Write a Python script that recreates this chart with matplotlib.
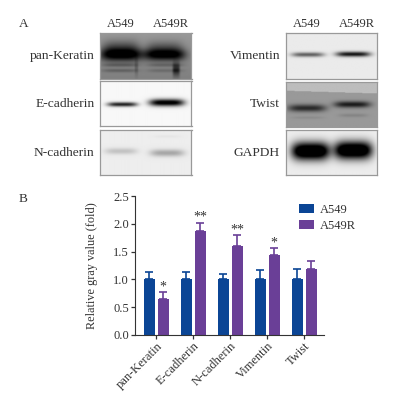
import numpy as np
import matplotlib
matplotlib.use('Agg')
import matplotlib.pyplot as plt

plt.rcParams['font.family'] = ['Liberation Serif', 'DejaVu Serif']

W, H = 402, 400
TXT = '#333333'

# bar chart values
genes = ['pan-Keratin', 'E-cadherin', 'N-cadherin', 'Vimentin', 'Twist']
a549 = [1.0, 1.0, 1.0, 1.0, 1.0]
a549_err = [0.14, 0.14, 0.10, 0.17, 0.19]
a549r = [0.65, 1.87, 1.61, 1.44, 1.18]
a549r_err = [0.12, 0.15, 0.19, 0.12, 0.15]
stars = ['*', '**', '**', '*', '']
yticks = [0.0, 0.5, 1.0, 1.5, 2.0, 2.5]

# blot panels: label, box (px), background grey, bands (x, y, half width, half height, darkness)
# x and y are fractions of the panel
left_blots = [
    ('pan-Keratin', (100.5, 33, 191.5, 79), 0.60, [
        (0.23, 0.47, 0.23, 0.14, 0.62), (0.71, 0.47, 0.23, 0.13, 0.62),
        (0.23, 0.30, 0.20, 0.16, 0.22), (0.71, 0.30, 0.20, 0.14, 0.18),
        (0.22, 0.70, 0.20, 0.04, 0.14), (0.72, 0.70, 0.20, 0.04, 0.12),
        (0.22, 0.82, 0.20, 0.04, 0.14), (0.72, 0.82, 0.20, 0.04, 0.10),
        (0.84, 0.80, 0.04, 0.15, 0.35), (0.40, 0.75, 0.02, 0.18, 0.12)]),
    ('E-cadherin', (100.5, 81.5, 191.5, 126.5), 0.97, [
        (0.245, 0.52, 0.165, 0.05, 0.85), (0.735, 0.48, 0.195, 0.08, 1.05)]),
    ('N-cadherin', (100.5, 130, 191.5, 175), 0.93, [
        (0.23, 0.47, 0.18, 0.07, 0.17), (0.74, 0.51, 0.19, 0.08, 0.28),
        (0.74, 0.14, 0.15, 0.03, 0.03)]),
]
right_blots = [
    ('Vimentin', (286, 33, 377, 79), 0.92, [
        (0.24, 0.47, 0.18, 0.05, 0.55), (0.74, 0.46, 0.19, 0.055, 0.85)]),
    ('Twist', (286, 81.5, 377, 127), 0.60, [
        (0.23, 0.59, 0.21, 0.08, 0.44), (0.73, 0.51, 0.20, 0.07, 0.50),
        (0.74, 0.75, 0.16, 0.04, 0.08), (0.24, 0.80, 0.18, 0.03, 0.05)]),
    ('GAPDH', (286, 130, 377, 175), 0.93, [
        (0.27, 0.47, 0.21, 0.20, 1.3), (0.74, 0.45, 0.21, 0.20, 1.3)]),
]


def px_axes(fig, x0, y0, x1, y1):
    return fig.add_axes([x0 / W, 1 - y1 / H, (x1 - x0) / W, (y1 - y0) / H])


def draw_blot(fig, label, box, bg, bands):
    x0, y0, x1, y1 = box
    ax = px_axes(fig, x0, y0, x1, y1)
    xx, yy = np.meshgrid(np.linspace(0, 1, 180), np.linspace(0, 1, 90))
    img = np.full(xx.shape, bg, dtype=float)
    if label == 'Twist':
        img[yy < 0.22 + 0.06 * (xx - 0.2)] = 0.74
    if label == 'pan-Keratin':
        img = img - 0.10 * yy
    for bx, by, bw, bh, dark in bands:
        edge = np.exp(-((xx - bx) / bw) ** 4)
        img = img - dark * edge * np.exp(-((yy - by) / bh) ** 2)
    ax.imshow(np.clip(img, 0, 1), cmap='gray', vmin=0, vmax=1, aspect='auto',
              interpolation='bilinear')
    ax.set_xticks([])
    ax.set_yticks([])
    for s in ax.spines.values():
        s.set_color('#999999')
        s.set_linewidth(0.9)
    fig.text((x0 - 6) / W, 1 - ((y0 + y1) / 2) / H, label, ha='right', va='center',
             fontsize=9.7, color=TXT)


fig = plt.figure(figsize=(W / 100, H / 100), dpi=100)

for row in left_blots + right_blots:
    draw_blot(fig, *row)

fig.text(19 / W, 1 - 24 / H, 'A', ha='left', va='center', fontsize=9.5, color=TXT)
fig.text(19 / W, 1 - 199 / H, 'B', ha='left', va='center', fontsize=9.5, color=TXT)
for cx, name in zip((121, 170.5, 307, 356.5), ('A549', 'A549R', 'A549', 'A549R')):
    fig.text(cx / W, 1 - 24 / H, name, ha='center', va='center', fontsize=9, color=TXT)

# bars
ax = px_axes(fig, 134.7, 196.3, 324, 334.7)
x = np.arange(len(genes))
blue = '#0B4595'
purple = '#6A3F97'
ax.bar(x - 0.187, a549, 0.29, color=blue, label='A549',
       yerr=[[0] * 5, a549_err], ecolor=blue,
       error_kw=dict(elinewidth=1.2, capsize=2.6, capthick=1.2))
ax.bar(x + 0.187, a549r, 0.29, color=purple, label='A549R',
       yerr=[[0] * 5, a549r_err], ecolor=purple,
       error_kw=dict(elinewidth=1.2, capsize=2.6, capthick=1.2))
for i, s in enumerate(stars):
    if s:
        ax.text(i + 0.187, a549r[i] + a549r_err[i] - 0.02, s, ha='center', va='bottom',
                fontsize=10, color=TXT)

ax.set_xlim(-0.584, 4.53)
ax.set_ylim(0, 2.5)
ax.set_yticks(yticks)
ax.set_yticklabels([f'{v:.1f}' for v in yticks], fontsize=9, color=TXT)
ax.set_xticks(x)
ax.set_xticklabels(genes, rotation=45, ha='right', rotation_mode='anchor', fontsize=9, color=TXT)
ax.set_ylabel('Relative gray value (fold)', fontsize=8.8, color=TXT, labelpad=11)
ax.tick_params(axis='both', length=3, width=0.9, color='#333333', pad=1)
ax.spines['top'].set_visible(False)
ax.spines['right'].set_visible(False)
ax.spines['left'].set_color('#333333')
ax.spines['bottom'].set_color('#333333')
ax.patch.set_alpha(0)

handles, labels = ax.get_legend_handles_labels()
ax.legend(handles, labels, loc='upper left', bbox_to_anchor=(0.87, 0.945), frameon=False,
          fontsize=9, labelcolor=TXT, handlelength=1.2, handleheight=0.72,
          handletextpad=0.4, labelspacing=0.35, borderaxespad=0, borderpad=0)

plt.savefig('out.png', dpi=100)
